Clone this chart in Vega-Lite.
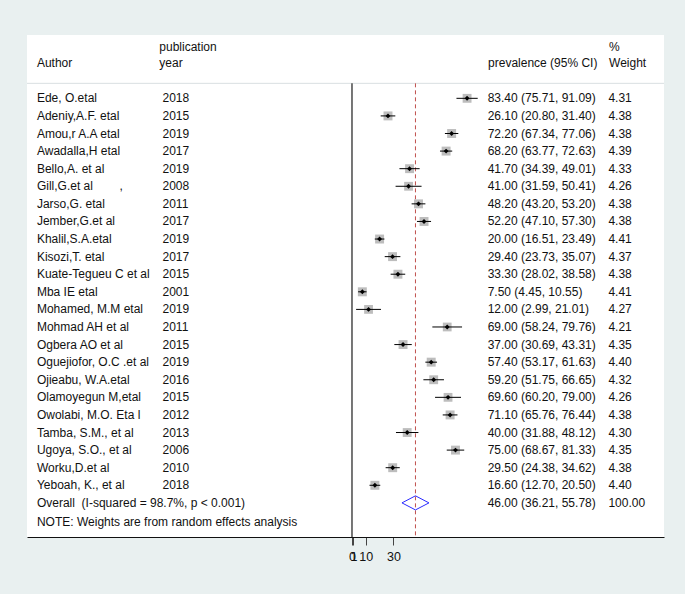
{
  "$schema": "https://vega.github.io/schema/vega-lite/v6.json",
  "width": 637,
  "height": 502,
  "autosize": {"type": "none"},
  "padding": {"left": 27, "top": 35, "right": 21, "bottom": 57},
  "background": "#e9f0f0",
  "config": {
    "view": {"fill": "white", "stroke": null},
    "text": {"font": "Liberation Sans", "fontSize": 12, "color": "#111111", "align": "left", "baseline": "middle"},
    "axisX": {"labelFont": "Liberation Sans", "grid": false, "labelOverlap": false, "labelFlush": false, "domainColor": "#111111", "domainWidth": 1, "tickColor": "#444444", "tickWidth": 1, "tickSize": 8, "labelFontSize": 12.5, "labelColor": "#111111", "labelPadding": 5}
  },
  "datasets": {
    "rows": [
      {"row": 1, "kind": "study", "author": "Ede, O.etal", "year": "2018", "es": 83.40, "lo": 75.71, "hi": 91.09, "ci": "83.40 (75.71, 91.09)", "weight": 4.31},
      {"row": 2, "kind": "study", "author": "Adeniy,A.F. etal", "year": "2015", "es": 26.10, "lo": 20.80, "hi": 31.40, "ci": "26.10 (20.80, 31.40)", "weight": 4.38},
      {"row": 3, "kind": "study", "author": "Amou,r A.A etal", "year": "2019", "es": 72.20, "lo": 67.34, "hi": 77.06, "ci": "72.20 (67.34, 77.06)", "weight": 4.38},
      {"row": 4, "kind": "study", "author": "Awadalla,H etal", "year": "2017", "es": 68.20, "lo": 63.77, "hi": 72.63, "ci": "68.20 (63.77, 72.63)", "weight": 4.39},
      {"row": 5, "kind": "study", "author": "Bello,A. et al", "year": "2019", "es": 41.70, "lo": 34.39, "hi": 49.01, "ci": "41.70 (34.39, 49.01)", "weight": 4.33},
      {"row": 6, "kind": "study", "author": "Gill,G.et al \u00a0\u00a0\u00a0\u00a0\u00a0\u00a0\u00a0,", "year": "2008", "es": 41.00, "lo": 31.59, "hi": 50.41, "ci": "41.00 (31.59, 50.41)", "weight": 4.26},
      {"row": 7, "kind": "study", "author": "Jarso,G. etal", "year": "2011", "es": 48.20, "lo": 43.20, "hi": 53.20, "ci": "48.20 (43.20, 53.20)", "weight": 4.38},
      {"row": 8, "kind": "study", "author": "Jember,G.et al", "year": "2017", "es": 52.20, "lo": 47.10, "hi": 57.30, "ci": "52.20 (47.10, 57.30)", "weight": 4.38},
      {"row": 9, "kind": "study", "author": "Khalil,S.A.etal", "year": "2019", "es": 20.00, "lo": 16.51, "hi": 23.49, "ci": "20.00 (16.51, 23.49)", "weight": 4.41},
      {"row": 10, "kind": "study", "author": "Kisozi,T. etal", "year": "2017", "es": 29.40, "lo": 23.73, "hi": 35.07, "ci": "29.40 (23.73, 35.07)", "weight": 4.37},
      {"row": 11, "kind": "study", "author": "Kuate-Tegueu C et al", "year": "2015", "es": 33.30, "lo": 28.02, "hi": 38.58, "ci": "33.30 (28.02, 38.58)", "weight": 4.38},
      {"row": 12, "kind": "study", "author": "Mba IE etal", "year": "2001", "es": 7.50, "lo": 4.45, "hi": 10.55, "ci": "7.50 (4.45, 10.55)", "weight": 4.41},
      {"row": 13, "kind": "study", "author": "Mohamed, M.M etal", "year": "2019", "es": 12.00, "lo": 2.99, "hi": 21.01, "ci": "12.00 (2.99, 21.01)", "weight": 4.27},
      {"row": 14, "kind": "study", "author": "Mohmad AH et al", "year": "2011", "es": 69.00, "lo": 58.24, "hi": 79.76, "ci": "69.00 (58.24, 79.76)", "weight": 4.21},
      {"row": 15, "kind": "study", "author": "Ogbera AO et al", "year": "2015", "es": 37.00, "lo": 30.69, "hi": 43.31, "ci": "37.00 (30.69, 43.31)", "weight": 4.35},
      {"row": 16, "kind": "study", "author": "Oguejiofor, O.C .et al", "year": "2019", "es": 57.40, "lo": 53.17, "hi": 61.63, "ci": "57.40 (53.17, 61.63)", "weight": 4.40},
      {"row": 17, "kind": "study", "author": "Ojieabu, W.A.etal", "year": "2016", "es": 59.20, "lo": 51.75, "hi": 66.65, "ci": "59.20 (51.75, 66.65)", "weight": 4.32},
      {"row": 18, "kind": "study", "author": "Olamoyegun M,etal", "year": "2015", "es": 69.60, "lo": 60.20, "hi": 79.00, "ci": "69.60 (60.20, 79.00)", "weight": 4.26},
      {"row": 19, "kind": "study", "author": "Owolabi, M.O. Eta l", "year": "2012", "es": 71.10, "lo": 65.76, "hi": 76.44, "ci": "71.10 (65.76, 76.44)", "weight": 4.38},
      {"row": 20, "kind": "study", "author": "Tamba, S.M., et al", "year": "2013", "es": 40.00, "lo": 31.88, "hi": 48.12, "ci": "40.00 (31.88, 48.12)", "weight": 4.30},
      {"row": 21, "kind": "study", "author": "Ugoya, S.O., et al", "year": "2006", "es": 75.00, "lo": 68.67, "hi": 81.33, "ci": "75.00 (68.67, 81.33)", "weight": 4.35},
      {"row": 22, "kind": "study", "author": "Worku,D.et al", "year": "2010", "es": 29.50, "lo": 24.38, "hi": 34.62, "ci": "29.50 (24.38, 34.62)", "weight": 4.38},
      {"row": 23, "kind": "study", "author": "Yeboah, K., et al", "year": "2018", "es": 16.60, "lo": 12.70, "hi": 20.50, "ci": "16.60 (12.70, 20.50)", "weight": 4.40},
      {"row": 24, "kind": "overall", "author": "Overall \u00a0(I-squared = 98.7%, p < 0.001)", "year": "", "es": 46.00, "lo": 36.21, "hi": 55.78, "ci": "46.00 (36.21, 55.78)", "weight": 100.00}
    ],
    "diamond": [
      {"order": 1, "x": 36.21, "y": 24.0},
      {"order": 2, "x": 46.00, "y": 23.6},
      {"order": 3, "x": 55.78, "y": 24.0},
      {"order": 4, "x": 46.00, "y": 24.4},
      {"order": 5, "x": 36.21, "y": 24.0}
    ]
  },
  "data": {"name": "rows"},
  "layer": [
    {
      "data": {"values": [{}]},
      "mark": {"type": "rule", "color": "#d9dfe1", "strokeWidth": 1},
      "encoding": {
        "y": {"datum": 0.148, "type": "quantitative", "scale": {"domain": [-2.6, 25.94], "reverse": true, "nice": false, "zero": false}, "axis": null}
      }
    },
    {
      "data": {"values": [{}]},
      "mark": {"type": "rule", "color": "#555555", "strokeWidth": 1.6},
      "encoding": {
        "x": {"datum": 0, "type": "quantitative", "scale": {"domain": [-235.5, 226.1], "nice": false, "zero": false}, "axis": {"values": [0, 1, 10, 30], "title": null, "format": "d"}},
        "y": {"datum": 0.148, "type": "quantitative", "scale": {"domain": [-2.6, 25.94], "reverse": true, "nice": false, "zero": false}, "axis": null},
        "y2": {"datum": 25.94}
      }
    },
    {
      "transform": [{"filter": "datum.kind == 'overall'"}],
      "mark": {"type": "rule", "color": "#c0504d", "strokeWidth": 1, "strokeDash": [4, 3]},
      "encoding": {
        "x": {"field": "es", "type": "quantitative", "scale": {"domain": [-235.5, 226.1], "nice": false, "zero": false}, "axis": {"values": [0, 1, 10, 30], "title": null, "format": "d"}},
        "y": {"datum": 0.148, "type": "quantitative", "scale": {"domain": [-2.6, 25.94], "reverse": true, "nice": false, "zero": false}, "axis": null},
        "y2": {"datum": 25.94}
      }
    },
    {
      "transform": [{"filter": "datum.kind == 'study'"}],
      "mark": {"type": "point", "shape": "square", "filled": true, "color": "#bdbdbd", "opacity": 1},
      "encoding": {
        "x": {"field": "es", "type": "quantitative", "scale": {"domain": [-235.5, 226.1], "nice": false, "zero": false}, "axis": {"values": [0, 1, 10, 30], "title": null, "format": "d"}},
        "y": {"field": "row", "type": "quantitative", "scale": {"domain": [-2.6, 25.94], "reverse": true, "nice": false, "zero": false}, "axis": null},
        "size": {"field": "weight", "type": "quantitative", "scale": {"domain": [0, 4.5], "range": [0, 82], "zero": true}, "legend": null}
      }
    },
    {
      "transform": [{"filter": "datum.kind == 'study'"}],
      "mark": {"type": "rule", "color": "#000000", "strokeWidth": 1},
      "encoding": {
        "x": {"field": "lo", "type": "quantitative", "scale": {"domain": [-235.5, 226.1], "nice": false, "zero": false}, "axis": {"values": [0, 1, 10, 30], "title": null, "format": "d"}},
        "x2": {"field": "hi"},
        "y": {"field": "row", "type": "quantitative", "scale": {"domain": [-2.6, 25.94], "reverse": true, "nice": false, "zero": false}, "axis": null}
      }
    },
    {
      "transform": [{"filter": "datum.kind == 'study'"}],
      "mark": {"type": "point", "shape": "diamond", "filled": true, "color": "#000000", "size": 24, "opacity": 1},
      "encoding": {
        "x": {"field": "es", "type": "quantitative", "scale": {"domain": [-235.5, 226.1], "nice": false, "zero": false}, "axis": {"values": [0, 1, 10, 30], "title": null, "format": "d"}},
        "y": {"field": "row", "type": "quantitative", "scale": {"domain": [-2.6, 25.94], "reverse": true, "nice": false, "zero": false}, "axis": null}
      }
    },
    {
      "data": {"name": "diamond"},
      "mark": {"type": "line", "color": "#2b2bff", "strokeWidth": 1},
      "encoding": {
        "x": {"field": "x", "type": "quantitative", "scale": {"domain": [-235.5, 226.1], "nice": false, "zero": false}, "axis": {"values": [0, 1, 10, 30], "title": null, "format": "d"}},
        "y": {"field": "y", "type": "quantitative", "scale": {"domain": [-2.6, 25.94], "reverse": true, "nice": false, "zero": false}, "axis": null},
        "order": {"field": "order", "type": "quantitative"}
      }
    },
    {
      "mark": {"type": "text"},
      "encoding": {
        "x": {"datum": -228.3, "type": "quantitative", "scale": {"domain": [-235.5, 226.1], "nice": false, "zero": false}, "axis": {"values": [0, 1, 10, 30], "title": null, "format": "d"}},
        "y": {"field": "row", "type": "quantitative", "scale": {"domain": [-2.6, 25.94], "reverse": true, "nice": false, "zero": false}, "axis": null},
        "text": {"field": "author"}
      }
    },
    {
      "mark": {"type": "text"},
      "encoding": {
        "x": {"datum": -137.3, "type": "quantitative", "scale": {"domain": [-235.5, 226.1], "nice": false, "zero": false}, "axis": {"values": [0, 1, 10, 30], "title": null, "format": "d"}},
        "y": {"field": "row", "type": "quantitative", "scale": {"domain": [-2.6, 25.94], "reverse": true, "nice": false, "zero": false}, "axis": null},
        "text": {"field": "year"}
      }
    },
    {
      "mark": {"type": "text"},
      "encoding": {
        "x": {"datum": 98.3, "type": "quantitative", "scale": {"domain": [-235.5, 226.1], "nice": false, "zero": false}, "axis": {"values": [0, 1, 10, 30], "title": null, "format": "d"}},
        "y": {"field": "row", "type": "quantitative", "scale": {"domain": [-2.6, 25.94], "reverse": true, "nice": false, "zero": false}, "axis": null},
        "text": {"field": "ci"}
      }
    },
    {
      "mark": {"type": "text"},
      "encoding": {
        "x": {"datum": 185.8, "type": "quantitative", "scale": {"domain": [-235.5, 226.1], "nice": false, "zero": false}, "axis": {"values": [0, 1, 10, 30], "title": null, "format": "d"}},
        "y": {"field": "row", "type": "quantitative", "scale": {"domain": [-2.6, 25.94], "reverse": true, "nice": false, "zero": false}, "axis": null},
        "text": {"field": "weight", "type": "quantitative", "format": ".2f"}
      }
    },
    {
      "data": {"values": [{}]},
      "mark": {"type": "text", "text": "Author"},
      "encoding": {
        "x": {"datum": -228.3, "type": "quantitative", "scale": {"domain": [-235.5, 226.1], "nice": false, "zero": false}, "axis": {"values": [0, 1, 10, 30], "title": null, "format": "d"}},
        "y": {"datum": -0.99, "type": "quantitative", "scale": {"domain": [-2.6, 25.94], "reverse": true, "nice": false, "zero": false}, "axis": null}
      }
    },
    {
      "data": {"values": [{}]},
      "mark": {"type": "text", "text": "publication"},
      "encoding": {
        "x": {"datum": -139.6, "type": "quantitative", "scale": {"domain": [-235.5, 226.1], "nice": false, "zero": false}, "axis": {"values": [0, 1, 10, 30], "title": null, "format": "d"}},
        "y": {"datum": -1.93, "type": "quantitative", "scale": {"domain": [-2.6, 25.94], "reverse": true, "nice": false, "zero": false}, "axis": null}
      }
    },
    {
      "data": {"values": [{}]},
      "mark": {"type": "text", "text": "year"},
      "encoding": {
        "x": {"datum": -139.6, "type": "quantitative", "scale": {"domain": [-235.5, 226.1], "nice": false, "zero": false}, "axis": {"values": [0, 1, 10, 30], "title": null, "format": "d"}},
        "y": {"datum": -0.99, "type": "quantitative", "scale": {"domain": [-2.6, 25.94], "reverse": true, "nice": false, "zero": false}, "axis": null}
      }
    },
    {
      "data": {"values": [{}]},
      "mark": {"type": "text", "text": "prevalence (95% CI)"},
      "encoding": {
        "x": {"datum": 98.6, "type": "quantitative", "scale": {"domain": [-235.5, 226.1], "nice": false, "zero": false}, "axis": {"values": [0, 1, 10, 30], "title": null, "format": "d"}},
        "y": {"datum": -0.99, "type": "quantitative", "scale": {"domain": [-2.6, 25.94], "reverse": true, "nice": false, "zero": false}, "axis": null}
      }
    },
    {
      "data": {"values": [{}]},
      "mark": {"type": "text", "text": "%"},
      "encoding": {
        "x": {"datum": 186.3, "type": "quantitative", "scale": {"domain": [-235.5, 226.1], "nice": false, "zero": false}, "axis": {"values": [0, 1, 10, 30], "title": null, "format": "d"}},
        "y": {"datum": -1.93, "type": "quantitative", "scale": {"domain": [-2.6, 25.94], "reverse": true, "nice": false, "zero": false}, "axis": null}
      }
    },
    {
      "data": {"values": [{}]},
      "mark": {"type": "text", "text": "Weight"},
      "encoding": {
        "x": {"datum": 186.3, "type": "quantitative", "scale": {"domain": [-235.5, 226.1], "nice": false, "zero": false}, "axis": {"values": [0, 1, 10, 30], "title": null, "format": "d"}},
        "y": {"datum": -0.99, "type": "quantitative", "scale": {"domain": [-2.6, 25.94], "reverse": true, "nice": false, "zero": false}, "axis": null}
      }
    },
    {
      "data": {"values": [{}]},
      "mark": {"type": "text", "text": "NOTE: Weights are from random effects analysis"},
      "encoding": {
        "x": {"datum": -228.3, "type": "quantitative", "scale": {"domain": [-235.5, 226.1], "nice": false, "zero": false}, "axis": {"values": [0, 1, 10, 30], "title": null, "format": "d"}},
        "y": {"datum": 25.06, "type": "quantitative", "scale": {"domain": [-2.6, 25.94], "reverse": true, "nice": false, "zero": false}, "axis": null}
      }
    }
  ]
}
